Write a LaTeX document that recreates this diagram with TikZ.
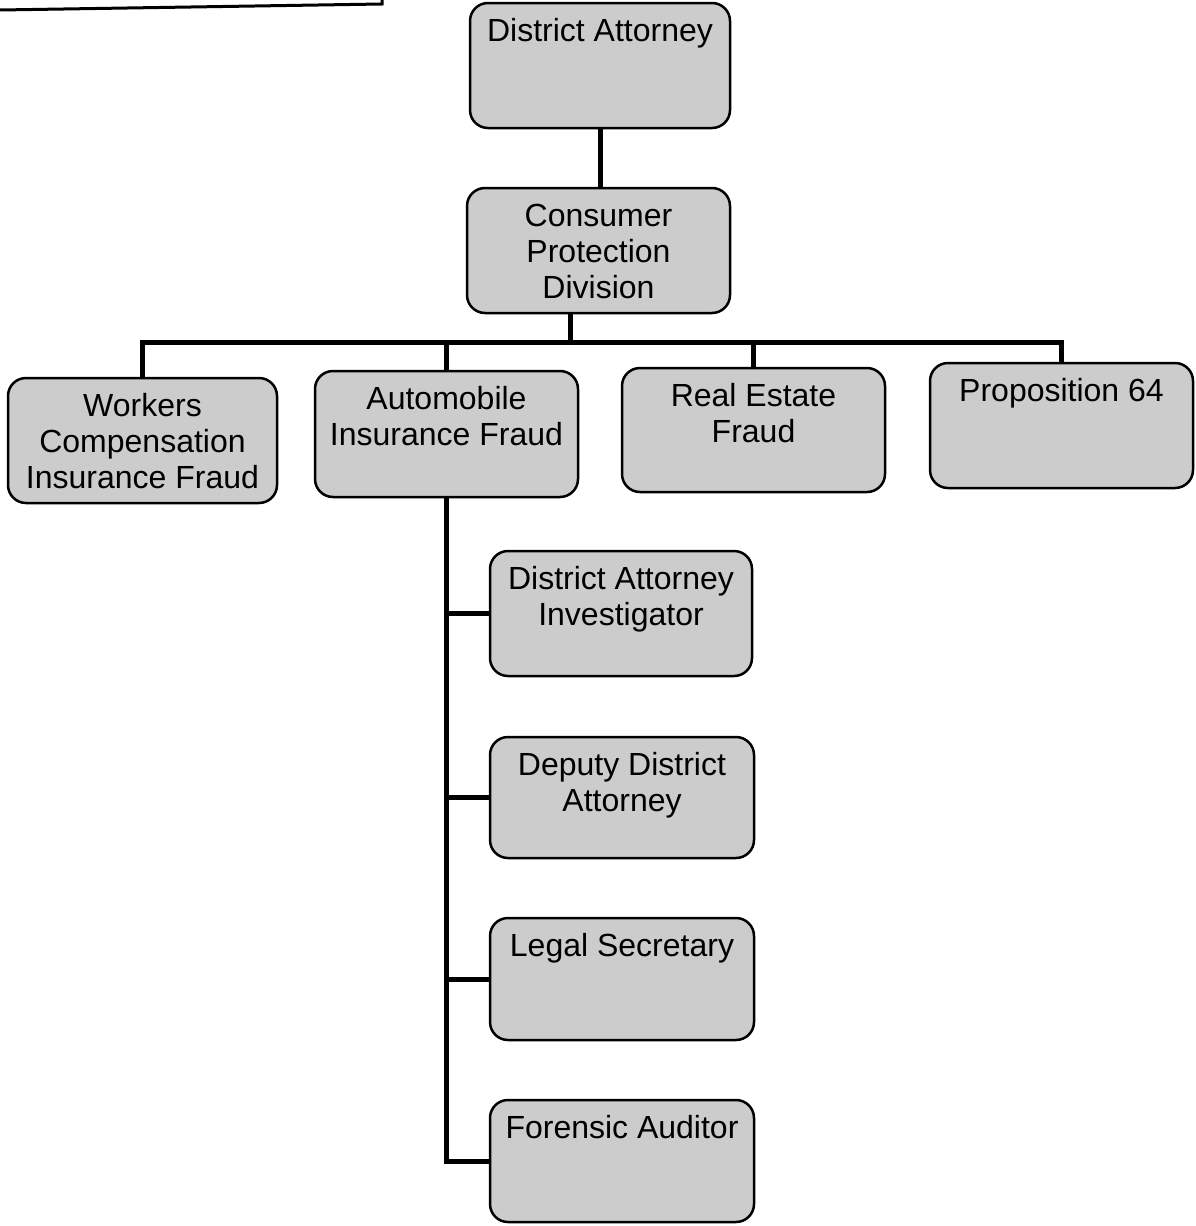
\documentclass[tikz,border=0pt]{standalone}
\usepackage{fontspec}
\setmainfont{Liberation Sans}
\definecolor{boxfill}{gray}{0.80}
\newcommand{\bt}[3]{\parbox[c][#2][t]{#1}{\centering\vspace*{13pt}\strut #3}}
\tikzset{
  orgbox/.style={draw, line width=2.5pt, rounded corners=18pt, fill=boxfill,
    inner sep=0pt, outer sep=0pt, anchor=north west,
    font=\fontsize{32}{36}\selectfont},
  conn/.style={line width=5pt, line join=miter},
}
\begin{document}
\begin{tikzpicture}[x=1pt,y=-1pt]
\useasboundingbox (0,0) rectangle (1196,1226);
% fragment of a box cut by the top edge
\draw[line width=3pt] (0,10) -- (382,4) -- (382,0);

\node[orgbox] (da)  at (470,3)   {\bt{260pt}{125pt}{District Attorney}};
\node[orgbox] (cpd) at (467,188) {\bt{263pt}{125pt}{Consumer\\Protection\\Division}};

\node[orgbox] (wc)  at (8,378)   {\bt{269pt}{125pt}{Workers\\Compensation\\Insurance Fraud}};
\node[orgbox] (aif) at (315,371) {\bt{263pt}{126pt}{Automobile\\Insurance Fraud}};
\node[orgbox] (re)  at (622,368) {\bt{263pt}{124pt}{Real Estate\\Fraud}};
\node[orgbox] (p64) at (930,363) {\bt{263pt}{125pt}{Proposition 64}};

\node[orgbox] (dai) at (490,551)  {\bt{262pt}{125pt}{District Attorney\\Investigator}};
\node[orgbox] (dda) at (490,737)  {\bt{264pt}{121pt}{Deputy District\\Attorney}};
\node[orgbox] (ls)  at (490,918)  {\bt{264pt}{122pt}{Legal Secretary}};
\node[orgbox] (fa)  at (490,1100) {\bt{264pt}{122pt}{Forensic Auditor}};

\coordinate (bus) at (570,342);
\draw[conn] (da.south) -- (da.south |- cpd.north);
\draw[conn] (cpd.south -| bus) -- (bus);
\draw[conn] (wc.north) |- (p64.north |- bus) -- (p64.north);
\draw[conn] (aif.north) -- (aif.north |- bus);
\draw[conn] (re.north) -- (re.north |- bus);

\draw[conn] (aif.south) |- (fa.west);
\draw[conn] (aif.south |- dai.west) -- (dai.west);
\draw[conn] (aif.south |- dda.west) -- (dda.west);
\draw[conn] (aif.south |- ls.west) -- (ls.west);
\end{tikzpicture}
\end{document}
